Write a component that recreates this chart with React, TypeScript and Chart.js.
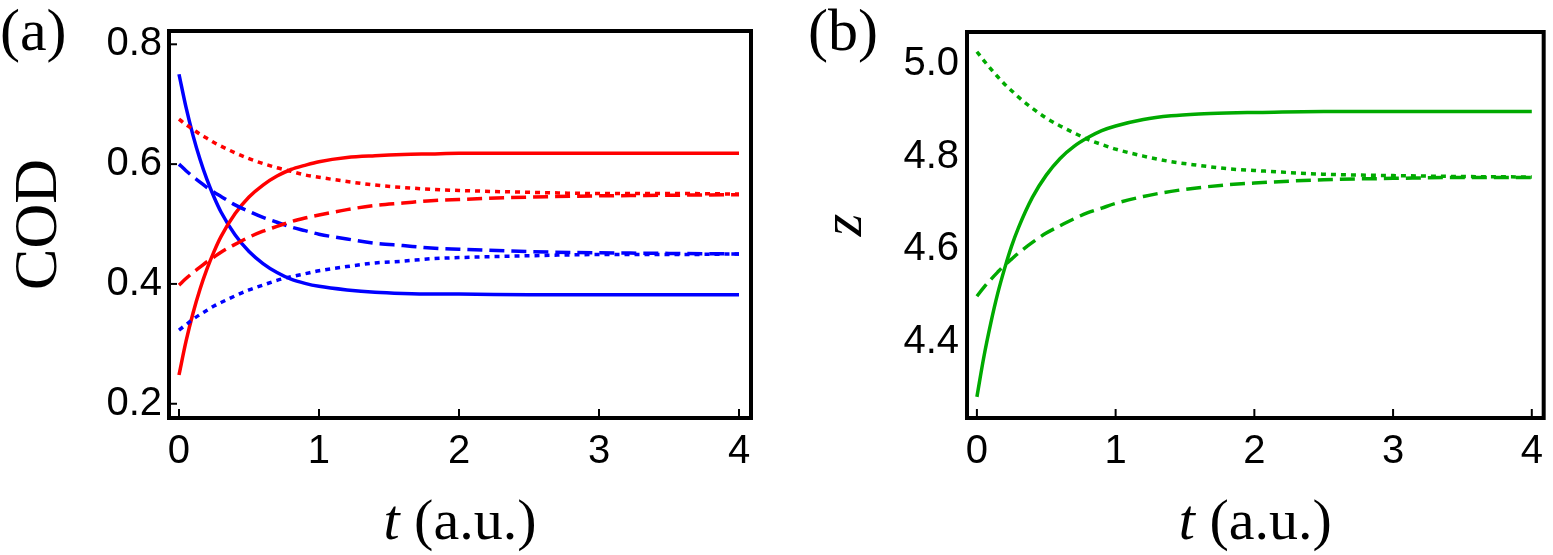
import React, { useEffect, useRef } from 'react';
import { Chart, registerables } from 'chart.js';

Chart.register(...registerables);

// time samples (a.u.)
const T = [0, 0.05, 0.1, 0.15, 0.2, 0.25, 0.3, 0.4, 0.5, 0.6, 0.7, 0.8, 0.9, 1.0, 1.2, 1.4, 1.6, 1.8, 2.0, 2.5, 3.0, 3.5, 4.0];

// panel (a): COD
const BLUE_SOLID = [0.750, 0.695, 0.648, 0.608, 0.574, 0.545, 0.520, 0.482, 0.454, 0.434, 0.419, 0.408, 0.401, 0.396, 0.390, 0.386, 0.384, 0.383, 0.383, 0.382, 0.382, 0.382, 0.382];
const RED_SOLID = [0.248, 0.304, 0.351, 0.391, 0.425, 0.454, 0.479, 0.517, 0.545, 0.565, 0.580, 0.591, 0.598, 0.604, 0.611, 0.614, 0.616, 0.617, 0.618, 0.618, 0.618, 0.618, 0.618];
const BLUE_DASHED = [0.600, 0.589, 0.579, 0.570, 0.561, 0.553, 0.546, 0.532, 0.521, 0.511, 0.503, 0.495, 0.489, 0.483, 0.475, 0.468, 0.464, 0.460, 0.458, 0.454, 0.452, 0.451, 0.450];
const RED_DASHED = [0.398, 0.409, 0.419, 0.428, 0.437, 0.445, 0.453, 0.466, 0.478, 0.488, 0.496, 0.504, 0.510, 0.515, 0.524, 0.531, 0.535, 0.539, 0.541, 0.545, 0.547, 0.548, 0.549];
const RED_DOTTED = [0.675, 0.666, 0.658, 0.650, 0.643, 0.636, 0.630, 0.619, 0.609, 0.601, 0.594, 0.588, 0.582, 0.578, 0.571, 0.565, 0.561, 0.558, 0.556, 0.553, 0.551, 0.551, 0.550];
const BLUE_DOTTED = [0.323, 0.332, 0.341, 0.349, 0.356, 0.363, 0.369, 0.380, 0.390, 0.398, 0.406, 0.412, 0.417, 0.422, 0.429, 0.435, 0.438, 0.442, 0.444, 0.447, 0.449, 0.449, 0.450];

// panel (b): z
const GREEN_SOLID = [4.282, 4.368, 4.441, 4.505, 4.559, 4.607, 4.647, 4.712, 4.760, 4.796, 4.822, 4.841, 4.856, 4.866, 4.880, 4.888, 4.892, 4.894, 4.895, 4.897, 4.897, 4.897, 4.897];
const GREEN_DASHED = [4.499, 4.518, 4.535, 4.551, 4.566, 4.579, 4.592, 4.615, 4.635, 4.651, 4.666, 4.679, 4.689, 4.699, 4.714, 4.725, 4.733, 4.739, 4.743, 4.750, 4.753, 4.755, 4.755];
const GREEN_DOTTED = [5.026, 5.007, 4.989, 4.972, 4.956, 4.942, 4.928, 4.904, 4.883, 4.866, 4.851, 4.837, 4.826, 4.816, 4.801, 4.789, 4.781, 4.774, 4.770, 4.762, 4.759, 4.757, 4.756];

const X_TICKS = [0, 1, 2, 3, 4];
const A_Y_TICKS = [0.2, 0.4, 0.6, 0.8];
const B_Y_TICKS = [4.4, 4.6, 4.8, 5.0];

const X_TITLE_ITALIC = 't';
const X_TITLE_REST = ' (a.u.)';

const RED = '#ff0000';
const BLUE = '#0000ff';
const GREEN = '#00aa00';
const SOLID: number[] = [];
const DASHED = [15, 7];
const DOTTED = [5, 5];

const SANS = '"Liberation Sans", Arial, sans-serif';
const SERIF = '"Liberation Serif", "Times New Roman", serif';

function series(values: number[]) {
  return T.map((t, i) => ({ x: t, y: values[i] }));
}

function ds(values: number[], color: string, dash: number[]) {
  return {
    data: series(values),
    borderColor: color,
    backgroundColor: color,
    borderWidth: 3.5,
    borderDash: dash,
    pointRadius: 0,
    fill: false,
    cubicInterpolationMode: 'monotone' as const,
  };
}

type PanelProps = {
  left: number;
  width: number;
  yWidth: number;
  padRight: number;
  yMin: number;
  yMax: number;
  yTicks: number[];
  drawYTicks: boolean;
  yLabelPad: number;
  yTitle: string;
  yTitleItalic: boolean;
  yTitleSize: number;
  yTitlePad: number;
  letter: string;
  letterX: number;
  datasets: any[];
};

function Panel(p: PanelProps) {
  const ref = useRef<HTMLCanvasElement | null>(null);
  useEffect(() => {
    if (!ref.current) return;
    const framePlugin = {
      id: 'frameAndText',
      afterDatasetsDraw(chart: any) {
        const { ctx, chartArea, scales } = chart;
        const { left, right, top, bottom } = chartArea;
        ctx.save();
        ctx.strokeStyle = '#000';
        ctx.lineWidth = 2;
        for (const v of X_TICKS) {
          const x = scales.x.getPixelForValue(v);
          ctx.beginPath();
          ctx.moveTo(x, bottom);
          ctx.lineTo(x, bottom - 9);
          ctx.stroke();
        }
        if (p.drawYTicks) {
          for (const v of p.yTicks) {
            const y = scales.y.getPixelForValue(v);
            ctx.beginPath();
            ctx.moveTo(left, y);
            ctx.lineTo(left + 8, y);
            ctx.stroke();
          }
        }
        ctx.lineWidth = 4;
        ctx.strokeRect(left, top, right - left, bottom - top);

        ctx.fillStyle = '#000';
        ctx.textBaseline = 'alphabetic';
        ctx.textAlign = 'left';
        ctx.font = `60px ${SERIF}`;
        ctx.fillText(p.letter, p.letterX, 50);

        const it = `italic 58px ${SERIF}`;
        const up = `58px ${SERIF}`;
        ctx.font = it;
        const w1 = ctx.measureText(X_TITLE_ITALIC).width;
        ctx.font = up;
        const w2 = ctx.measureText(X_TITLE_REST).width;
        const x0 = (left + right) / 2 - (w1 + w2) / 2;
        ctx.font = it;
        ctx.fillText(X_TITLE_ITALIC, x0, 539);
        ctx.font = up;
        ctx.fillText(X_TITLE_REST, x0 + w1, 539);
        ctx.restore();
      },
    };

    const chart = new Chart(ref.current, {
      type: 'line',
      data: { datasets: p.datasets },
      plugins: [framePlugin],
      options: {
        animation: false,
        responsive: false,
        devicePixelRatio: 1,
        layout: { padding: { left: 0, top: 11, right: p.padRight, bottom: 0 } },
        plugins: { legend: { display: false }, tooltip: { enabled: false } },
        scales: {
          x: {
            type: 'linear',
            min: -0.0714,
            max: 4.0857,
            grid: { display: false, drawTicks: false },
            border: { display: false },
            afterBuildTicks: (s: any) => {
              s.ticks = X_TICKS.map((v) => ({ value: v }));
            },
            afterFit: (s: any) => {
              s.height = 137;
            },
            ticks: {
              padding: 10,
              color: '#000',
              font: { family: SANS, size: 40 },
              maxRotation: 0,
              autoSkip: false,
              callback: (v: any) => String(v),
            },
          },
          y: {
            type: 'linear',
            min: p.yMin,
            max: p.yMax,
            grid: { display: false, drawTicks: false },
            border: { display: false },
            afterBuildTicks: (s: any) => {
              s.ticks = p.yTicks.map((v) => ({ value: v }));
            },
            afterFit: (s: any) => {
              s.width = p.yWidth;
            },
            ticks: {
              padding: p.yLabelPad,
              color: '#000',
              font: { family: SANS, size: 40 },
              autoSkip: false,
              callback: (v: any) => Number(v).toFixed(1),
            },
            title: {
              display: true,
              text: p.yTitle,
              color: '#000',
              font: { family: SERIF, size: p.yTitleSize, style: p.yTitleItalic ? 'italic' : 'normal', lineHeight: 1 },
              padding: { top: p.yTitlePad, bottom: 0 },
            },
          },
        },
      },
    } as any);
    return () => chart.destroy();
  }, []);
  return (
    <canvas
      ref={ref}
      width={p.width}
      height={555}
      style={{ position: 'absolute', left: p.left, top: 0, width: p.width, height: 555 }}
    />
  );
}

export default function App() {
  const aSets = [
    ds(RED_DOTTED, RED, DOTTED),
    ds(BLUE_DOTTED, BLUE, DOTTED),
    ds(RED_DASHED, RED, DASHED),
    ds(BLUE_DASHED, BLUE, DASHED),
    ds(RED_SOLID, RED, SOLID),
    ds(BLUE_SOLID, BLUE, SOLID),
  ];
  const bSets = [
    ds(GREEN_DOTTED, GREEN, DOTTED),
    ds(GREEN_DASHED, GREEN, DASHED),
    ds(GREEN_SOLID, GREEN, SOLID),
  ];
  return (
    <div style={{ position: 'absolute', left: 0, top: 0, width: 1553, height: 555, background: '#fff', overflow: 'hidden' }}>
      <Panel
        left={0}
        width={776}
        yWidth={169}
        padRight={25}
        yMin={0.1762}
        yMax={0.8222}
        yTicks={A_Y_TICKS}
        drawYTicks={true}
        yLabelPad={7}
        yTitle="COD"
        yTitleItalic={false}
        yTitleSize={62}
        yTitlePad={9}
        letter="(a)"
        letterX={0}
        datasets={aSets}
      />
      <Panel
        left={776}
        width={777}
        yWidth={191}
        padRight={4}
        yMin={4.2365}
        yMax={5.0685}
        yTicks={B_Y_TICKS}
        drawYTicks={false}
        yLabelPad={8}
        yTitle="z"
        yTitleItalic={true}
        yTitleSize={58}
        yTitlePad={41}
        letter="(b)"
        letterX={32}
        datasets={bSets}
      />
    </div>
  );
}
